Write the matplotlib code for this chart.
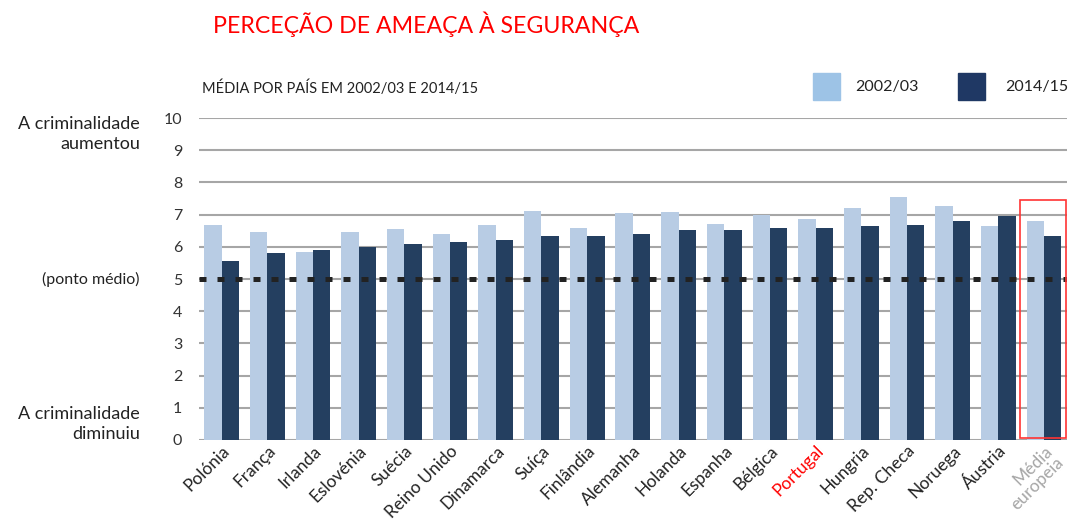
import matplotlib
matplotlib.use("Agg")
import matplotlib.pyplot as plt
from matplotlib.patches import Rectangle
import numpy as np

countries = ["Polónia", "França", "Irlanda", "Eslovénia", "Suécia", "Reino Unido",
             "Dinamarca", "Suíça", "Finlândia", "Alemanha", "Holanda", "Espanha",
             "Bélgica", "Portugal", "Hungria", "Rep. Checa", "Noruega", "Áustria",
             "Média\neuropeia"]
v2002 = [6.68, 6.47, 5.85, 6.47, 6.55, 6.40, 6.68, 7.10, 6.59, 7.06, 7.08, 6.71,
         7.00, 6.87, 7.20, 7.56, 7.28, 6.64, 6.80]
v2014 = [5.55, 5.80, 5.89, 5.98, 6.10, 6.14, 6.22, 6.34, 6.34, 6.39, 6.52, 6.52,
         6.60, 6.60, 6.64, 6.69, 6.81, 6.97, 6.34]
yticks = list(range(0, 11))
series_labels = ["2002/03", "2014/15"]

plt.rcParams['font.family'] = ['Lato', 'DejaVu Sans']

fig = plt.figure(figsize=(10.75, 5.32), dpi=100)
ax = fig.add_axes([0.185, 0.173, 0.8074, 0.605])

x = np.arange(len(countries))
w = 0.38
c_light = "#B8CCE4"
c_dark = "#243F60"
ax.bar(x - w / 2, v2002, width=w, color=c_light, zorder=2)
ax.bar(x + w / 2, v2014, width=w, color=c_dark, zorder=2)

ax.set_xlim(-0.5, 18.5)
ax.set_ylim(0, 10)
ax.set_yticks(yticks)
ax.set_yticklabels([str(t) for t in yticks], fontsize=11.5, color="#333333")
ax.yaxis.grid(True, color="#A6A6A6", linewidth=1.5, zorder=0)
ax.set_axisbelow(True)
for s in ax.spines.values():
    s.set_visible(False)
ax.tick_params(axis='y', length=0, pad=12)
ax.tick_params(axis='x', length=0, pad=2)

ax.set_xticks(x)
ax.set_xticklabels(countries, rotation=45, ha='right', rotation_mode='anchor',
                   fontsize=12.5, color="#222222", linespacing=1.0)
for lbl in ax.get_xticklabels():
    if lbl.get_text() == "Portugal":
        lbl.set_color("#FF0000")
    elif lbl.get_text().startswith("Média"):
        lbl.set_color("#A6A6A6")

# midpoint dotted line
ax.axhline(5, color="#222222", linewidth=3.6, linestyle=(0, (1.4, 2.2)), zorder=3)

# red box around the European average
ax.add_patch(Rectangle((17.47, 0.05), 1.02, 7.42, fill=False, edgecolor="#FF3333",
                       linewidth=1.2, zorder=4, clip_on=False))

# left descriptive labels
tr = ax.get_yaxis_transform()
ax.text(-0.068, 9.5, "A criminalidade\naumentou", transform=tr, ha='right', va='center',
        fontsize=13, color="#222222", linespacing=1.3)
ax.text(-0.068, 5, "(ponto médio)", transform=tr, ha='right', va='center',
        fontsize=11.5, color="#222222")
ax.text(-0.068, 0.5, "A criminalidade\ndiminuiu", transform=tr, ha='right', va='center',
        fontsize=13, color="#222222", linespacing=1.3)

# title and subtitle
fig.text(213 / 1075, 1 - 24 / 532, "PERCEÇÃO DE AMEAÇA À SEGURANÇA", color="#FF0000",
         fontsize=16.7, ha='left', va='center')
fig.text(202 / 1075, 1 - 88 / 532, "MÉDIA POR PAÍS EM 2002/03 E 2014/15", color="#222222",
         fontsize=10.5, ha='left', va='center')

# legend
for (xs, xt, col, lab) in [(813, 855, "#9DC3E6", series_labels[0]),
                           (958, 1005, "#1F3864", series_labels[1])]:
    fig.patches.append(Rectangle((xs / 1075, 1 - 100 / 532), 27 / 1075, 27 / 532,
                                 transform=fig.transFigure, color=col, figure=fig))
    fig.text(xt / 1075, 1 - 87 / 532, lab, color="#222222", fontsize=11.5,
             ha='left', va='center')

fig.savefig("out.png", dpi=100)
